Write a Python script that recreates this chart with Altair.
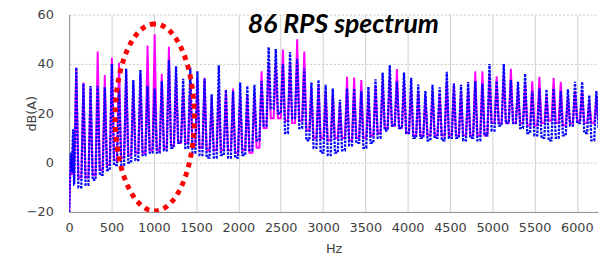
import altair as alt
import numpy as np
import pandas as pd

# ---------------- data ----------------
F0 = 84.2  # harmonic spacing (Hz)
harmonics = list(range(1, 75))

blue_peak = [38.5, 32, 31, 31, 30.5, 40, 30, 38, 33.5, 37.5,
             31, 30, 33, 41.5, 39, 34, 38.5, 37, 34, 27.7,
             39.5, 29.5, 29, 32.5, 31, 31.5, 33, 46.8, 46, 40,
             44.8, 42, 38, 32.5, 33.5, 31.5, 30, 25.5, 30, 30,
             29, 30.7, 33.8, 36.5, 39.5, 33, 36.5, 34.4, 31.6, 29,
             31.5, 30.5, 36.8, 32, 31.5, 32.7, 33, 32, 40, 33,
             40, 33.5, 32.8, 36, 29, 30, 29.7, 30, 29, 29.7,
             32.8, 32.7, 27.3, 29]
blue_floor = [-10, -9, -7, -5, -3, -1, -1, 0, 1, 3,
              4, 4, 5, 6, 8, 6, 4, 3, 2, 2,
              3, 2, 2, 3, 5, 9, 15, 22, 20, 12,
              18, 14, 9, 6, 4, 3, 4, 5, 7, 8,
              6, 8, 10, 13, 15, 14, 12, 10, 10, 9,
              10, 9, 10, 10, 9, 10, 9, 11, 13, 15,
              16, 16, 14, 12, 11, 10, 9, 10, 11, 15,
              16, 12, 9, 14]
mag_peak = [38.5, 32.5, 30, 45, 35.5, 42.5, 40.5, 37, 32, 35,
            47.5, 52, 36, 47, 36, 30, 33, 34, 34.4, 26,
            30, 29.5, 30, 28, 27, 28, 37, 40, 40, 45.8,
            40, 50, 45, 30, 31, 29, 28, 24, 34.8, 34.5,
            33.5, 28, 31, 33, 35, 37.9, 33, 31, 29, 27,
            29, 28, 33, 32, 29, 30, 37, 37, 36, 35,
            36, 38, 30, 32, 33, 34.8, 27, 34.3, 32.8, 27,
            29, 29, 25, 27]
mag_floor = [-6, -6, -5, -3, -1, 1, 2, 3, 4, 4,
             5, 5, 6, 7, 8, 8, 7, 6, 5, 5,
             5, 5, 4, 5, 4, 6, 14, 18, 18, 17,
             16, 17, 13, 10, 10, 9, 10, 10, 9, 10,
             10, 11, 12, 14, 15, 14, 12, 11, 11, 11,
             11, 11, 11, 11, 11, 11, 11, 11, 16, 16,
             16, 16, 16, 15, 15, 16, 17, 16, 15, 16,
             17, 16, 16, 17]

blue_start_f = [0, 18, 32, 46, 58]
blue_start_db = [-20, 4, -4, 13.5, -9]
mag_start_f = [0, 18, 32, 46, 58]
mag_start_db = [-20, 2, -5, 8, -6]

x_ticks = list(range(0, 6251, 250))
y_ticks = list(range(-20, 61, 10))

title_text = "86 RPS spectrum"
title_pos = (3240, 55.8)

ellipse_center = (1011, 18.3)
ellipse_radius = (468, 37.9)


def build(start_f, start_db, peaks, floors):
    rows = list(zip(start_f, start_db))
    prev = start_db[-1]
    for k, p, fl in zip(harmonics, peaks, floors):
        rows.append(((k - 0.3) * F0, prev))
        rows.append((k * F0, p))
        rows.append(((k + 0.3) * F0, fl))
        prev = fl
    df = pd.DataFrame(rows, columns=["f", "db"])
    df["i"] = range(len(df))
    return df


blue_df = build(blue_start_f, blue_start_db, blue_peak, blue_floor)
mag_df = build(mag_start_f, mag_start_db, mag_peak, mag_floor)

t = np.linspace(0, 2 * np.pi, 181)
ell_df = pd.DataFrame({
    "f": ellipse_center[0] + ellipse_radius[0] * np.cos(t + np.pi / 2),
    "db": ellipse_center[1] + ellipse_radius[1] * np.sin(t + np.pi / 2),
    "i": range(len(t)),
})

title_df = pd.DataFrame({"f": [title_pos[0]], "db": [title_pos[1]], "t": [title_text]})

FONT = "DejaVu Sans"
GRAY = "#404040"

x_enc = alt.X(
    "f:Q",
    scale=alt.Scale(domain=[0, 6250], nice=False, zero=False),
    axis=alt.Axis(
        values=x_ticks,
        labelExpr="datum.value % 500 === 0 ? datum.label : ''",
        format="d",
        grid=True,
        gridColor="#cfcfcf",
        gridWidth=1,
        ticks=False,
        domainColor="#8c8c8c",
        labelFont=FONT,
        labelFontSize=13,
        labelColor=GRAY,
        labelPadding=10,
        labelFlush=False,
        labelOverlap=False,
        title="Hz",
        titleFont=FONT,
        titleFontSize=13,
        titleFontWeight="normal",
        titleColor=GRAY,
        titlePadding=8,
    ),
)
y_enc = alt.Y(
    "db:Q",
    scale=alt.Scale(domain=[-20, 60], nice=False, zero=False),
    axis=alt.Axis(
        values=y_ticks,
        grid=True,
        gridColor="#c8c8c8",
        gridDash=[2, 2],
        ticks=False,
        domainColor="#8c8c8c",
        labelFont=FONT,
        labelFontSize=13,
        labelColor=GRAY,
        labelPadding=16,
        title="dB(A)",
        titleFont=FONT,
        titleFontSize=13,
        titleFontWeight="normal",
        titleColor=GRAY,
        titleX=-38,
        titleY=100,
        titleAlign="center",
        titleBaseline="middle",
    ),
)

mag = alt.Chart(mag_df).mark_line(color="#ff00ff", strokeWidth=2, clip=True).encode(
    x=x_enc, y=y_enc, order="i:Q"
)
blue = alt.Chart(blue_df).mark_line(
    color="#0000ff", strokeWidth=2.3, strokeDash=[2.5, 1.2], clip=True
).encode(x="f:Q", y="db:Q", order="i:Q")
ell = alt.Chart(ell_df).mark_line(
    color="#ff0000", strokeWidth=5, strokeDash=[5, 5], strokeCap="butt", clip=True
).encode(x="f:Q", y="db:Q", order="i:Q")
title = alt.Chart(title_df).mark_text(
    font="Lato", fontSize=27, fontWeight="bold", fontStyle="italic",
    color="#000000", align="center", baseline="middle"
).encode(x="f:Q", y="db:Q", text="t:N")

chart = alt.layer(mag, blue, ell, title).properties(
    width=536, height=200,
    autosize=alt.AutoSizeParams(type="none"),
    padding={"left": 62, "top": 5, "right": 1, "bottom": 45},
).configure_view(strokeWidth=0)

chart.save("out.html", embed_options={"renderer": "svg", "actions": False})
